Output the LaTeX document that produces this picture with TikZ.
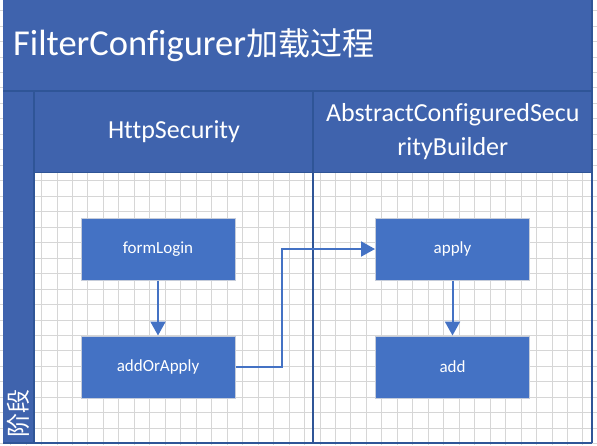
\documentclass[tikz,border=0pt]{standalone}
\usepackage{fontspec}
\setmainfont{Carlito}[Ligatures=NoCommon]
\newfontfamily\cjk{Noto Sans CJK SC}
\usepackage{xcolor}
\usetikzlibrary{arrows.meta}
\definecolor{bandblue}{HTML}{3F63AD}
\definecolor{boxblue}{HTML}{4472C4}
\definecolor{laneblue}{HTML}{2F5597}
\definecolor{gridgray}{HTML}{D6D6D6}
\definecolor{boxedge}{HTML}{C5CCDA}

\begin{document}
\begin{tikzpicture}[x=1pt, y=-1pt,
    proc/.style={draw=boxedge, line width=1pt, fill=boxblue, text=white,
      minimum width=154pt, minimum height=62pt, font=\fontsize{17}{20}\selectfont},
    flow/.style={boxblue, line width=2pt, -{Triangle[width=15pt,length=14pt]}},
    lane/.style={laneblue, line width=2pt},
    head/.style={text=white, font=\fontsize{26}{33.5}\selectfont}]
\useasboundingbox (0,0) rectangle (597,445);

% grid
\foreach \i in {0,...,37}
  \draw[gridgray, line width=0.8pt] (10.5+15.47*\i,0) -- (10.5+15.47*\i,445);
\foreach \j in {0,...,28}
  \draw[gridgray, line width=0.8pt] (0,10.5+15.47*\j) -- (597,10.5+15.47*\j);

% bands
\fill[bandblue] (3,0) rectangle (592,172);
\fill[bandblue] (3,172) rectangle (34,443);

\draw[lane] (3,91) -- (592,91);
\draw[lane] (34,91) -- (34,443);
\draw[lane] (313,91) -- (313,443);
\draw[lane] (592,0) -- (592,443);
\draw[lane] (3,443) -- (592,443);
\draw[lane, line width=1pt] (34,172) -- (592,172);

% texts
\node[anchor=base west, inner sep=0pt, text=white, font=\fontsize{36.5}{40}\selectfont]
  (title) at (13,55) {FilterConfigurer{\cjk\fontsize{32}{32}\selectfont 加载过程}};
\node[head, anchor=base] (http) at (174,138) {HttpSecurity};
\node[head, align=center] (builder) at (452.8,131.5) {AbstractConfiguredSecu\\rityBuilder};
\node[rotate=90, text=white, font={\cjk\fontsize{24}{24}\selectfont}] (phase) at (18,413.5) {阶段};

% steps
\node[proc] (formLogin) at (158,249) {formLogin};
\node[proc] (addOrApply) at (158,367) {addOrApply};
\node[proc] (apply) at (452.5,249) {apply};
\node[proc] (add) at (452.5,367) {add};

\coordinate (bend) at (282,300);
\draw[flow] (formLogin) -- (addOrApply);
\draw[flow] (apply) -- (add);
\draw[flow] (addOrApply.east) -- (addOrApply.east -| bend) -- (bend |- apply.west) -- (apply.west);
\end{tikzpicture}
\end{document}
